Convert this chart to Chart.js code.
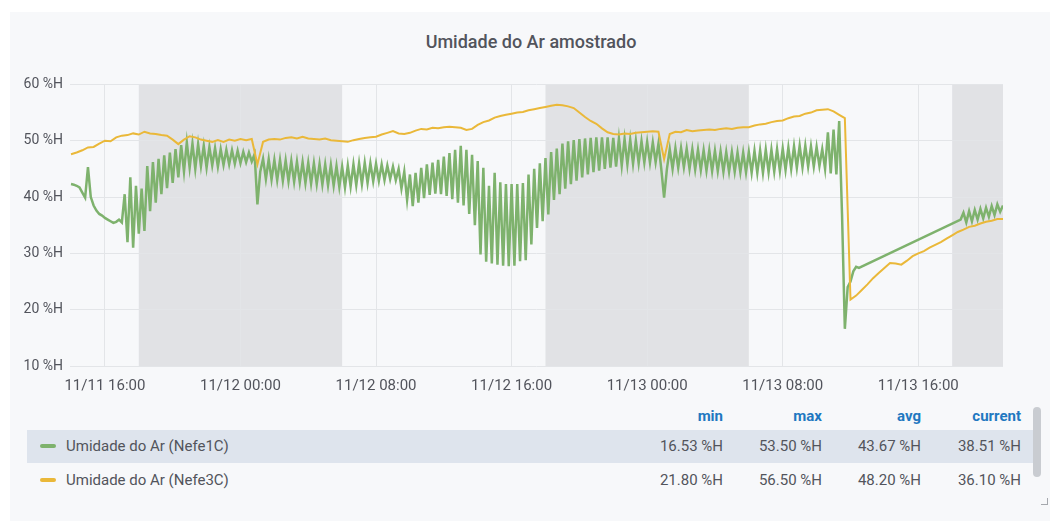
<!DOCTYPE html>
<html>
<head>
<meta charset="utf-8">
<script src="https://cdn.jsdelivr.net/npm/chart.js@4.4.0/dist/chart.umd.min.js"></script>
<style>
  body { margin: 0; width: 1056px; height: 521px; overflow: hidden; background: #fff;
         font-family: Roboto, "Noto Sans", sans-serif; color: #52545c; }
  .panel { position: absolute; left: 10px; top: 12px; width: 1040px; height: 509px; background: #f7f8fa; }
  .title { position: absolute; left: 0; top: 31px; width: 1062px; text-align: center;
           font-size: 18px; font-weight: 500; line-height: 22px; color: #52545c; }
  #wrap { position: absolute; left: 10px; top: 69px; width: 1010px; height: 331px; }
  .lg { position: absolute; font-size: 15px; line-height: 20px; white-space: nowrap; }
  .hd { font-weight: bold; color: #1f78c1; }
  .rowbg { position: absolute; left: 27px; width: 1006px; height: 33px; }
  .sw { position: absolute; left: 40px; width: 16px; height: 4px; border-radius: 2px; }
  .scroll { position: absolute; left: 1033px; top: 407px; width: 8px; height: 70px;
            background: #c9ccd1; border-radius: 4px; }
  .corner { position: absolute; left: 1041px; top: 498px; width: 6px; height: 6px;
            border-right: 1.5px solid #a5a8ad; border-bottom: 1.5px solid #a5a8ad; }
</style>
</head>
<body>
<div class="panel"></div>
<div class="title">Umidade do Ar amostrado</div>
<div id="wrap"><canvas id="c"></canvas></div>
<div id="legend"></div>
<div class="scroll"></div>
<div class="corner"></div>
<script>
// time axis is hours since 11/11 00:00
const X_MIN = 13.94;
const X_MAX = 69;
const xTickValues = [16, 24, 32, 40, 48, 56, 64];
const xTickLabels = ["11/11 16:00", "11/12 00:00", "11/12 08:00", "11/12 16:00",
                     "11/13 00:00", "11/13 08:00", "11/13 16:00"];
const yTickValues = [10, 20, 30, 40, 50, 60];

// grey night regions (18:00 -> 06:00)
const nightBands = [[18, 30], [42, 54], [66, 69]];

// Nefe1C: one sample every 10 minutes from 11/11 14:00 (null = no data)
const greenStart = 14;
const greenStep = 1 / 6;
const greenValues = [
  42.3, 42.2, 42.0, 41.7, 40.8, 39.9, 45.3, 40.0, 38.5, 37.6,
  37.0, 36.7, 36.3, 36.0, 35.7, 35.4, 35.6, 36.0, 35.5, 40.5,
  32.0, 43.5, 31.0, 42.0, 33.5, 41.5, 34.0, 45.5, 37.5, 46.2,
  39.0, 46.8, 40.5, 47.4, 41.6, 47.9, 42.5, 48.5, 43.5, 49.2,
  44.5, 49.7, 45.2, 49.5, 45.0, 49.4, 45.5, 49.1, 45.2, 48.9,
  45.6, 48.7, 45.4, 48.5, 45.7, 48.4, 45.8, 48.3, 45.9, 48.2,
  46.0, 48.0, 46.2, 47.9, 46.3, 47.6, 38.7, 44.5, 46.8, 43.2,
  46.7, 43.1, 46.6, 43.0, 46.6, 42.9, 46.5, 42.8, 46.4, 42.7,
  46.3, 42.6, 46.2, 42.5, 46.1, 42.4, 46.0, 42.3, 45.9, 42.2,
  45.8, 42.1, 45.7, 42.0, 45.5, 41.8, 45.4, 41.7, 45.6, 41.9,
  45.8, 42.1, 46.0, 42.3, 46.1, 42.5, 46.0, 42.8, 45.9, 42.9,
  45.8, 43.0, 45.6, 43.2, 45.4, 43.0, 45.0, 41.5, 44.5, 39.5,
  44.0, 38.4, 44.3, 39.0, 45.2, 39.8, 45.8, 40.4, 46.1, 40.6,
  46.6, 40.5, 47.2, 40.2, 47.8, 39.6, 48.4, 39.0, 49.1, 38.5,
  48.4, 37.0, 47.5, 35.0, 46.4, 29.8, 45.2, 28.5, 42.0, 28.2,
  44.3, 28.0, 42.6, 27.8, 42.3, 27.7, 42.3, 27.8, 42.3, 28.6,
  42.5, 28.8, 44.0, 31.6, 45.0, 34.5, 46.0, 35.7, 46.9, 36.9,
  48.0, 39.5, 48.6, 40.5, 49.5, 41.5, 49.9, 42.3, 50.1, 42.9,
  50.3, 43.5, 50.4, 44.0, 50.5, 44.4, 50.6, 44.7, 50.6, 45.0,
  50.6, 45.2, 50.5, 45.4, 50.4, 45.6, 50.3, 45.8, 50.2, 45.9,
  50.0, 46.0, 49.9, 46.1, 49.8, 46.1, 49.7, 46.2, 49.5, 45.0,
  39.9, 45.0, 48.5, 45.0, 48.7, 45.2, 48.7, 45.3, 48.6, 45.0,
  48.5, 44.9, 48.4, 44.8, 48.3, 44.7, 48.3, 44.6, 48.2, 44.6,
  48.1, 44.5, 48.0, 44.5, 48.0, 44.5, 47.9, 44.4, 47.9, 44.4,
  48.0, 44.3, 48.2, 44.3, 48.3, 44.3, 48.4, 44.4, 48.4, 44.5,
  48.5, 44.6, 48.6, 44.8, 48.8, 45.0, 49.0, 45.2, 49.1, 45.3,
  49.1, 45.4, 49.0, 45.4, 48.9, 45.5, 48.5, 45.0, 51.5, 44.2,
  52.0, 44.0, 53.5, 37.0, 16.6, 24.0, 25.0, 26.8, 27.6, 27.4,
  null, null, null, null, null, null, null, null, null, null,
  null, null, null, null, null, null, null, null, null, null,
  null, null, null, null, null, null, null, null, null, null,
  null, null, null, null, null,
  36.0, 37.2, 35.5, 37.5, 35.7, 37.7, 36.0, 37.9, 36.2, 38.1,
  36.5, 38.4, 36.8, 38.7, 37.4, 38.5
];

// Nefe3C: one sample every 20 minutes from 11/11 14:00
const orangeStart = 14;
const orangeStep = 1 / 3;
const orangeValues = [
  47.6, 47.9, 48.3, 48.8, 48.9, 49.5, 50.0, 49.9, 50.6, 50.9,
  51.0, 51.3, 51.1, 51.6, 51.3, 51.2, 51.0, 50.9, 50.2, 49.4,
  50.2, 50.8, 50.6, 50.2, 50.0, 49.8, 50.1, 49.8, 50.2, 50.0,
  50.3, 50.1, 50.3, 45.8, 49.8, 50.2, 50.3, 50.2, 50.5, 50.6,
  50.4, 50.7, 50.4, 50.3, 50.2, 50.4, 50.1, 50.0, 49.9, 49.8,
  50.1, 50.3, 50.5, 50.6, 50.7, 51.1, 51.4, 51.7, 51.3, 51.2,
  51.4, 51.8, 52.1, 52.0, 52.3, 52.2, 52.4, 52.5, 52.4, 52.3,
  51.9, 52.1, 52.8, 53.3, 53.6, 54.1, 54.4, 54.6, 54.8, 55.0,
  55.1, 55.4, 55.6, 55.8, 56.0, 56.2, 56.4, 56.3, 56.1, 55.8,
  55.0, 54.2, 53.5, 53.0, 52.2, 51.5, 51.2, 51.1, 51.3, 51.2,
  51.4, 51.5, 51.6, 51.7, 51.6, 46.7, 51.2, 51.6, 51.5, 51.9,
  51.7, 51.8, 51.9, 52.0, 51.9, 52.1, 52.2, 52.1, 52.3, 52.4,
  52.4, 52.7, 52.9, 53.0, 53.3, 53.5, 53.6, 54.0, 54.3, 54.4,
  54.8, 55.0, 55.4, 55.5, 55.6, 55.2, 54.6, 54.0, 21.8, 22.5,
  23.5, 24.5, 25.6, 26.5, 27.4, 28.3, 28.2, 28.0, 28.7, 29.5,
  30.0, 30.4, 31.0, 31.5, 32.0, 32.6, 33.2, 33.8, 34.2, 34.7,
  34.9, 35.3, 35.6, 35.8, 36.1, 36.1
];

const seriesNames = ["Umidade do Ar (Nefe1C)", "Umidade do Ar (Nefe3C)"];
const seriesColors = ["#7eb26d", "#eab839"];
const statHeaders = ["min", "max", "avg", "current"];
const statMin = [16.53, 21.80];
const statMax = [53.50, 56.50];
const statAvg = [43.67, 48.20];
const statCurrent = [38.51, 36.10];

const toPoints = (vals, start, step) => vals.map((v, i) => ({ x: start + i * step, y: v }));

const nightBandPlugin = {
  id: "nightBands",
  beforeDraw(chart) {
    const { ctx, chartArea: a, scales: { x } } = chart;
    ctx.save();
    ctx.fillStyle = "#e1e2e5";
    for (const [s, e] of nightBands) {
      const x0 = Math.max(x.getPixelForValue(s), a.left);
      const x1 = Math.min(x.getPixelForValue(e), a.right);
      if (x1 > x0) ctx.fillRect(x0, a.top, x1 - x0, a.bottom - a.top);
    }
    ctx.restore();
  }
};

Chart.defaults.font.family = "Roboto, 'Noto Sans', sans-serif";
Chart.defaults.color = "#52545c";

new Chart(document.getElementById("c"), {
  type: "line",
  data: {
    datasets: [
      {
        label: seriesNames[0],
        data: toPoints(greenValues, greenStart, greenStep),
        borderColor: seriesColors[0],
        borderWidth: 2.5,
        pointRadius: 0,
        tension: 0,
        spanGaps: true,
        order: 1,
      },
      {
        label: seriesNames[1],
        data: toPoints(orangeValues, orangeStart, orangeStep),
        borderColor: seriesColors[1],
        borderWidth: 2,
        pointRadius: 0,
        tension: 0,
        order: 0,
      },
    ],
  },
  options: {
    responsive: true,
    maintainAspectRatio: false,
    animation: false,
    layout: { padding: { top: 5, right: 17, left: 0, bottom: 0 } },
    plugins: { legend: { display: false }, tooltip: { enabled: false } },
    scales: {
      x: {
        type: "linear",
        min: X_MIN,
        max: X_MAX,
        afterBuildTicks: (s) => { s.ticks = xTickValues.map(v => ({ value: v })); },
        afterFit: (s) => { s.height = 34; },
        ticks: {
          autoSkip: false,
          maxRotation: 0,
          padding: 11,
          font: { size: 15 },
          callback: (v) => xTickLabels[xTickValues.indexOf(v)],
        },
        grid: { color: "#e3e5e8", drawTicks: false },
        border: { display: false },
      },
      y: {
        min: 10,
        max: 60,
        afterBuildTicks: (s) => { s.ticks = yTickValues.map(v => ({ value: v })); },
        afterFit: (s) => { s.width = 60; },
        ticks: {
          padding: 7,
          font: { size: 14 },
          callback: (v) => v + " %H",
        },
        grid: { color: "#e3e5e8", drawTicks: false },
        border: { display: false },
      },
    },
  },
  plugins: [nightBandPlugin],
});

// legend table below the chart
const legend = document.getElementById("legend");
const colRight = [723, 822, 921, 1021];
const rowCenter = [446, 480];
const fmt = (v) => v.toFixed(2) + " %H";

function addText(text, left, centerY, cls, right) {
  const d = document.createElement("div");
  d.className = "lg " + (cls || "");
  d.textContent = text;
  d.style.top = (centerY - 10) + "px";
  if (right) {
    d.style.left = (left - 120) + "px";
    d.style.width = "120px";
    d.style.textAlign = "right";
  } else {
    d.style.left = left + "px";
  }
  legend.appendChild(d);
}

statHeaders.forEach((h, i) => addText(h, colRight[i], 416, "hd", true));

const bg = document.createElement("div");
bg.className = "rowbg";
bg.style.top = "430px";
bg.style.background = "#dee4ed";
legend.appendChild(bg);

seriesNames.forEach((name, r) => {
  const sw = document.createElement("div");
  sw.className = "sw";
  sw.style.background = seriesColors[r];
  sw.style.top = (rowCenter[r] - 2) + "px";
  legend.appendChild(sw);
  addText(name, 66, rowCenter[r]);
  [statMin, statMax, statAvg, statCurrent].forEach((arr, c) =>
    addText(fmt(arr[r]), colRight[c], rowCenter[r], "", true));
});
</script>
</body>
</html>
